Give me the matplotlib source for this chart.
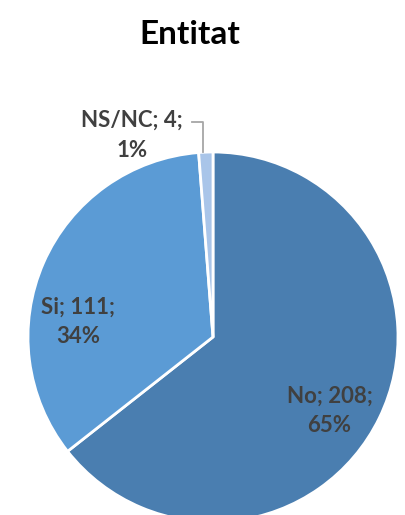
import matplotlib.pyplot as plt
import numpy as np

plt.rcParams['font.family'] = ['Lato', 'DejaVu Sans']

categories = ["No", "Si", "NS/NC"]
values = [208, 111, 4]
pct_labels = ["65%", "34%", "1%"]
colors = ["#4a7eb0", "#5b9bd5", "#a9c5e9"]

W, H = 406, 515
fig = plt.figure(figsize=(W / 100, H / 100), dpi=100)

# pie centre (213, 337) px, radius 185 px
cx, cy, r = 213, 337, 185
ax = fig.add_axes([(cx - r) / W, (H - cy - r) / H, 2 * r / W, 2 * r / H])

wedges, _ = ax.pie(values, colors=colors, startangle=90, counterclock=False,
                   radius=1, wedgeprops=dict(edgecolor="white", linewidth=2.0))
for w in wedges:
    w.set_clip_on(False)
ax.set_xlim(-1, 1)
ax.set_ylim(-1, 1)
ax.set_aspect("equal")
ax.axis("off")

lab_col = "#404040"
lab_kw = dict(ha="center", va="center", fontsize=16, fontweight="bold",
              color=lab_col, linespacing=1.5, clip_on=False)

pos = {"No": (0.63, -0.40), "Si": (-0.73, 0.08), "NS/NC": (-0.44, 1.09)}
for cat, v, p in zip(categories, values, pct_labels):
    x, y = pos[cat]
    ax.text(x, y, f"{cat}; {v};\n{p}", **lab_kw)

# leader line for the small slice
ax.plot([-0.112, -0.054, -0.054], [1.162, 1.162, 1.0], color="#a6a6a6",
        lw=1.3, clip_on=False)

fig.text(190 / W, 1 - 35 / H, "Entitat", ha="center", va="center",
         fontsize=24, fontweight="bold", color="black")

fig.savefig("out.png", dpi=100, facecolor="white")
